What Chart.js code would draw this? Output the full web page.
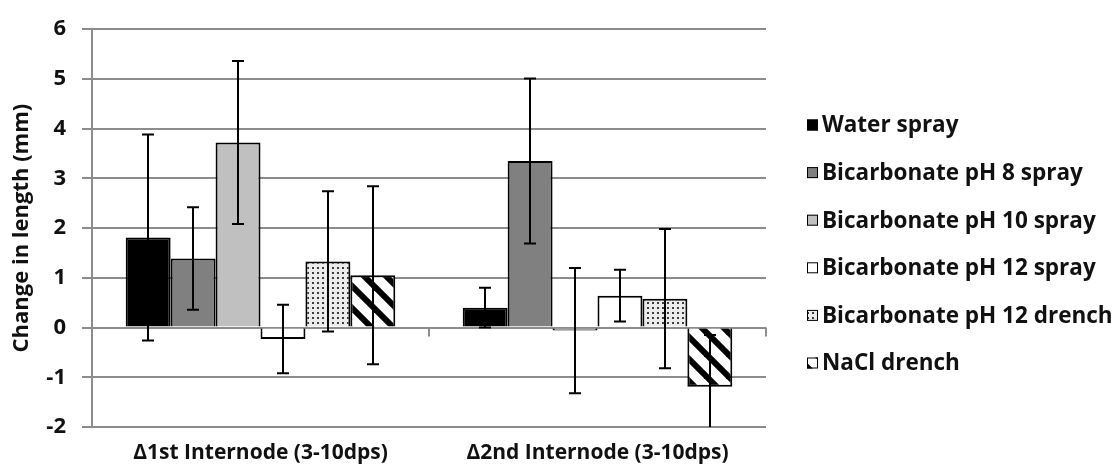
<!DOCTYPE html>
<html lang="en">
<head>
  <meta charset="UTF-8" />
  <title>Internode elongation</title>
  <script src="https://cdn.jsdelivr.net/npm/chart.js"></script>
  <style>
    html, body { margin: 0; padding: 0; background: #fff; }
    .chart-box { position: relative; width: 1118px; height: 472px; }
  </style>
</head>
<body>
  <div class="chart-box">
    <canvas id="internodeChart"></canvas>
  </div>

  <script>
    // categories on the x axis
    const categories = ['Δ1st Internode (3-10dps)', 'Δ2nd Internode (3-10dps)'];

    // treatment names
    const treatments = [
      'Water spray',
      'Bicarbonate pH 8 spray',
      'Bicarbonate pH 10 spray',
      'Bicarbonate pH 12 spray',
      'Bicarbonate pH 12 drench',
      'NaCl drench'
    ];

    // mean change in length (mm) per treatment, one value per category
    const waterSpray = [1.81, 0.40];
    const bicarb8Spray = [1.39, 3.35];
    const bicarb10Spray = [3.72, -0.06];
    const bicarb12Spray = [-0.23, 0.64];
    const bicarb12Drench = [1.33, 0.58];
    const naclDrench = [1.05, -1.19];

    // error bar half-widths
    const waterErr = [2.07, 0.40];
    const bicarb8Err = [1.03, 1.66];
    const bicarb10Err = [1.64, 1.26];
    const bicarb12SprayErr = [0.69, 0.52];
    const bicarb12DrenchErr = [1.41, 1.40];
    const naclErr = [1.79, 1.04];

    // y axis range
    const yMin = -2;
    const yMax = 6;
    const yStep = 1;

    const FONT = '"Open Sans", "Noto Sans", sans-serif';
    const GRID = '#8c8c8c';
    const INK = '#111';

    // small dot texture
    function dotPattern() {
      const c = document.createElement('canvas');
      c.width = 5; c.height = 5;
      const g = c.getContext('2d');
      g.fillStyle = '#ececec';
      g.fillRect(0, 0, 5, 5);
      g.fillStyle = '#3c3c3c';
      g.fillRect(2, 2, 2, 2);
      return g.createPattern(c, 'repeat');
    }

    // wide downward diagonal texture
    function stripePattern() {
      const s = 22;
      const c = document.createElement('canvas');
      c.width = s; c.height = s;
      const g = c.getContext('2d');
      g.fillStyle = '#fff';
      g.fillRect(0, 0, s, s);
      g.strokeStyle = '#000';
      g.lineWidth = 6;
      [-s, 0, s].forEach(off => {
        g.beginPath();
        g.moveTo(off - 4, -4);
        g.lineTo(off + s + 4, s + 4);
        g.stroke();
      });
      return g.createPattern(c, 'repeat');
    }

    const seriesValues = [waterSpray, bicarb8Spray, bicarb10Spray, bicarb12Spray, bicarb12Drench, naclDrench];
    const seriesErrors = [waterErr, bicarb8Err, bicarb10Err, bicarb12SprayErr, bicarb12DrenchErr, naclErr];
    const fills = ['#000000', '#808080', '#c0c0c0', '#ffffff', dotPattern(), stripePattern()];

    const datasets = treatments.map((name, i) => ({
      label: name,
      data: seriesValues[i],
      errors: seriesErrors[i],
      backgroundColor: fills[i],
      borderColor: '#000',
      borderWidth: 2,
      categoryPercentage: 0.8,
      barPercentage: 1.0
    }));

    // vertical error bars with caps, clipped to the plot area
    const errorBars = {
      id: 'errorBars',
      afterDatasetsDraw(chart) {
        const { ctx, chartArea } = chart;
        const y = chart.scales.y;
        ctx.save();
        ctx.strokeStyle = '#000';
        ctx.lineWidth = 2;
        chart.data.datasets.forEach((ds, di) => {
          const meta = chart.getDatasetMeta(di);
          meta.data.forEach((bar, j) => {
            const v = ds.data[j], e = ds.errors[j];
            const hiVal = v + e, loVal = v - e;
            const top = Math.max(y.getPixelForValue(hiVal), chartArea.top);
            const bot = Math.min(y.getPixelForValue(loVal), chartArea.bottom);
            const x = Math.round(bar.x);
            ctx.beginPath();
            ctx.moveTo(x, top);
            ctx.lineTo(x, bot);
            if (hiVal <= yMax) { ctx.moveTo(x - 6, top); ctx.lineTo(x + 6, top); }
            if (loVal >= yMin) { ctx.moveTo(x - 6, bot); ctx.lineTo(x + 6, bot); }
            ctx.stroke();
          });
        });
        ctx.restore();
      }
    };

    // tick marks below the zero line between categories
    const zeroTicks = {
      id: 'zeroTicks',
      afterDraw(chart) {
        const { ctx, chartArea } = chart;
        const x = chart.scales.x, y = chart.scales.y;
        const y0 = y.getPixelForValue(0);
        const marks = [chartArea.left, chartArea.right];
        for (let i = 0; i < categories.length - 1; i++) {
          marks.push((x.getPixelForTick(i) + x.getPixelForTick(i + 1)) / 2);
        }
        ctx.save();
        ctx.strokeStyle = GRID;
        ctx.lineWidth = 2;
        marks.forEach(m => {
          ctx.beginPath();
          ctx.moveTo(m, y0);
          ctx.lineTo(m, y0 + 9);
          ctx.stroke();
        });
        ctx.restore();
      }
    };

    // legend list on the right side
    const sideLegend = {
      id: 'sideLegend',
      afterDraw(chart) {
        const ctx = chart.ctx;
        ctx.save();
        ctx.font = 'bold 22.5px ' + FONT;
        ctx.textBaseline = 'middle';
        ctx.textAlign = 'left';
        chart.data.datasets.forEach((ds, i) => {
          const cy = 125 + i * 47.6;
          ctx.fillStyle = ds.backgroundColor;
          ctx.fillRect(807, cy - 5.5, 11, 11);
          ctx.strokeStyle = '#000';
          ctx.lineWidth = 1;
          ctx.strokeRect(807.5, cy - 5, 10, 10);
          ctx.fillStyle = INK;
          ctx.fillText(ds.label, 822, cy + 1);
        });
        ctx.restore();
      }
    };

    new Chart(document.getElementById('internodeChart'), {
      type: 'bar',
      data: { labels: categories, datasets },
      plugins: [errorBars, zeroTicks, sideLegend],
      options: {
        responsive: true,
        maintainAspectRatio: false,
        animation: false,
        layout: { padding: { top: 25, right: 352, bottom: 0, left: 0 } },
        plugins: {
          legend: { display: false },
          tooltip: { enabled: false }
        },
        scales: {
          x: {
            grid: { display: false, drawTicks: false },
            border: { display: false },
            ticks: { color: INK, padding: 13, font: { family: FONT, size: 21, weight: 'bold' } },
            afterFit: s => { s.height = 45; }
          },
          y: {
            min: yMin,
            max: yMax,
            ticks: { stepSize: yStep, color: INK, padding: 16, font: { family: FONT, size: 22, weight: 'bold' } },
            grid: { color: GRID, lineWidth: 2, tickLength: 10 },
            border: { color: GRID, width: 2 },
            title: {
              display: true,
              text: 'Change in length (mm)',
              color: INK,
              padding: { top: 9, bottom: 0 },
              font: { family: FONT, size: 22, weight: 'bold' }
            },
            afterFit: s => { s.width = 92; }
          }
        }
      }
    });
  </script>
</body>
</html>
